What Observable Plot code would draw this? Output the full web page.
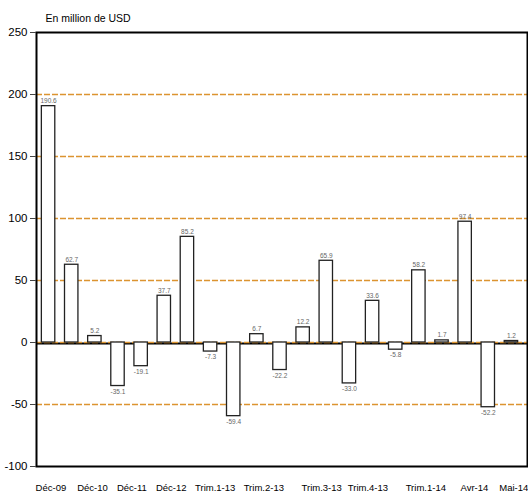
<!DOCTYPE html>
<html>
<head>
<meta charset="utf-8">
<script src="https://cdn.jsdelivr.net/npm/d3@7"></script>
<script src="https://cdn.jsdelivr.net/npm/@observablehq/plot@0.6"></script>
<style>
  body { margin: 0; background: #fff; }
  #chart svg { display: block; }
</style>
</head>
<body>
<div id="chart"></div>
<script>
// Bar values (en million de USD), in order left to right
const values = [190.6, 62.7, 5.2, -35.1, -19.1, 37.7, 85.2, -7.3, -59.4, 6.7, -22.2,
                12.2, 65.9, -33.0, 33.6, -5.8, 58.2, 1.7, 97.4, -52.2, 1.2];
// Category tick labels and where they fall along the bar sequence (bar index units)
const tickLabels = ["Déc-09", "Déc-10", "Déc-11", "Déc-12", "Trim.1-13", "Trim.2-13",
                    "Trim.3-13", "Trim.4-13", "Trim.1-14", "Avr-14", "Mai-14"];
const tickAt = [0.1, 1.9, 3.6, 5.3, 7.2, 9.3, 11.8, 13.8, 16.3, 18.4, 20.1];
const yTicks = [-100, -50, 0, 50, 100, 150, 200, 250];
const gridTicks = [-50, 0, 50, 100, 150, 200];

const bars = values.map((v, i) => ({i, v}));
const ticks = tickLabels.map((t, k) => ({t, at: tickAt[k]}));

const font = "'Liberation Sans', Arial, sans-serif";
const half = 0.29;

const chart = Plot.plot({
  width: 528,
  height: 495,
  marginLeft: 36,
  marginRight: 1,
  marginTop: 32,
  marginBottom: 29,
  style: {fontFamily: font, background: "#fff"},
  x: {domain: [-0.5, 20.5], range: [36.5, 522.5], axis: null},
  y: {domain: [-100, 250], axis: null},
  marks: [
    Plot.ruleY([0], {stroke: "#000", strokeWidth: 2, dy: 1}),
    Plot.ruleY(gridTicks, {stroke: "#dc9430", strokeWidth: 1.5, strokeDasharray: "6,2"}),
    Plot.rectY(bars, {
      x1: d => d.i - half, x2: d => d.i + half, y1: 0, y2: "v",
      fill: "#fff", stroke: "#222", strokeWidth: 1.3
    }),
    Plot.text(bars, {
      x: "i", y: "v", text: d => d.v.toFixed(1),
      fontSize: 6.5, fill: "#666",
      filter: d => d.v >= 0, lineAnchor: "bottom", dy: -3
    }),
    Plot.text(bars, {
      x: "i", y: "v", text: d => d.v.toFixed(1),
      fontSize: 6.5, fill: "#666",
      filter: d => d.v < 0, lineAnchor: "top", dy: 3
    }),
    Plot.frame({stroke: "#000", strokeWidth: 2}),
    Plot.axisY(yTicks, {
      label: null, tickSize: 6, tickPadding: 3, fontSize: 11.5, stroke: "#444",
      tickFormat: d => String(d), fill: "#000", style: {letterSpacing: "-0.6px"}
    }),
    Plot.text(ticks, {
      x: "at", text: "t", frameAnchor: "bottom", lineAnchor: "middle",
      dy: 21, fontSize: 9.5, fill: "#000", style: {letterSpacing: "-0.5px"}
    }),
    Plot.text(["En million de USD"], {
      frameAnchor: "top-left", textAnchor: "start", lineAnchor: "middle",
      dx: 9, dy: -14, fontSize: 10.5, fill: "#000", style: {letterSpacing: "-0.5px"}
    })
  ]
});
document.getElementById("chart").append(chart);
</script>
</body>
</html>
